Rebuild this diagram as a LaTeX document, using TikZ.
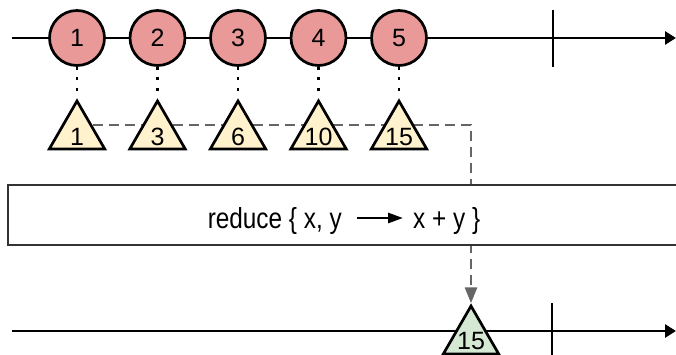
\documentclass[tikz,border=0pt]{standalone}
\usepackage{fontspec}
\setmainfont{Liberation Sans}
\usetikzlibrary{arrows.meta,shapes.geometric}
\definecolor{marble}{HTML}{EA9999}
\definecolor{triyel}{HTML}{FFF2CC}
\definecolor{trigreen}{HTML}{D5E8D4}
\definecolor{dgray}{HTML}{666666}
\pgfdeclarelayer{background}
\pgfsetlayers{background,main}
\begin{document}
\begin{tikzpicture}[x=1pt,y=-1pt,
  axis/.style={line width=2.7pt,-{Triangle[length=11pt,width=13pt]}},
  tickline/.style={line width=2.7pt},
  marblenode/.style={circle,draw,line width=2.7pt,fill=marble,minimum size=55pt,inner sep=0pt,font=\fontsize{25}{25}\selectfont},
  trinode/.style={regular polygon,regular polygon sides=3,draw,line width=2.7pt,minimum size=64pt,inner sep=0pt},
  numlbl/.style={inner sep=0pt,font=\fontsize{25}{25}\selectfont},
  dots/.style={line width=2.7pt,dash pattern=on 2.7pt off 7.8pt},
  flow/.style={line width=2.7pt,dgray,dash pattern=on 10pt off 6pt},
  opbox/.style={draw=black!80,line width=2.5pt,fill=white,minimum width=690pt,minimum height=60pt,inner sep=0pt},
  optext/.style={inner sep=0pt,font=\fontsize{29}{29}\selectfont},
]
\useasboundingbox (0,0) rectangle (676,355);

% top timeline
\coordinate (s1) at (12,38);
\coordinate (e1) at (676,38);
\draw[axis] (s1) -- (e1);
\coordinate (k1a) at (553,10);
\coordinate (k1b) at (553,67);
\draw[tickline] (k1a) -- (k1b);

% operator box
\node[opbox] (box) at (353,215) {};
\node[optext,anchor=base east] (lt) at (342,228) {\scalebox{0.84}[1]{reduce \{ x, y}};
\node[optext,anchor=base west] (rt) at (413,228) {\scalebox{0.84}[1]{x + y \}}};
\coordinate (a0) at (357,218);
\coordinate (a1) at (403,218);
\draw[line width=2.7pt,-{Triangle[length=15pt,width=10pt]}] (a0) -- (a1);

% marbles
\foreach \i/\x in {1/77,2/157.5,3/238,4/318.5,5/399}{
  \node[marblenode] (c\i) at (\x,38) {\i};
}
% triangles
\foreach \i/\x/\v in {1/77/1,2/157.5/3,3/238/6,4/318.5/10,5/399/15}{
  \node[trinode,fill=triyel] (t\i) at (\x,133) {};
  \node[numlbl] (n\i) at (\x,137) {\v};
  \draw[dots] (c\i.south) -- (t\i.corner 1);
}

% bottom timeline
\coordinate (s2) at (12,331);
\coordinate (e2) at (676,331);
\draw[axis] (s2) -- (e2);
\coordinate (k2a) at (552,303);
\coordinate (k2b) at (552,360);
\draw[tickline] (k2a) -- (k2b);
\node[trinode,fill=trigreen] (res) at (471,338) {};
\node[numlbl] (rn) at (471,341) {15};

% flow dashed line (behind triangles and box)
\coordinate (f0) at (77,125);
\begin{pgfonlayer}{background}
\draw[flow,-{Triangle[length=16pt,width=12pt]}] (f0) -- (f0 -| res.corner 1) -- (res.corner 1);
\end{pgfonlayer}
\end{tikzpicture}
\end{document}
